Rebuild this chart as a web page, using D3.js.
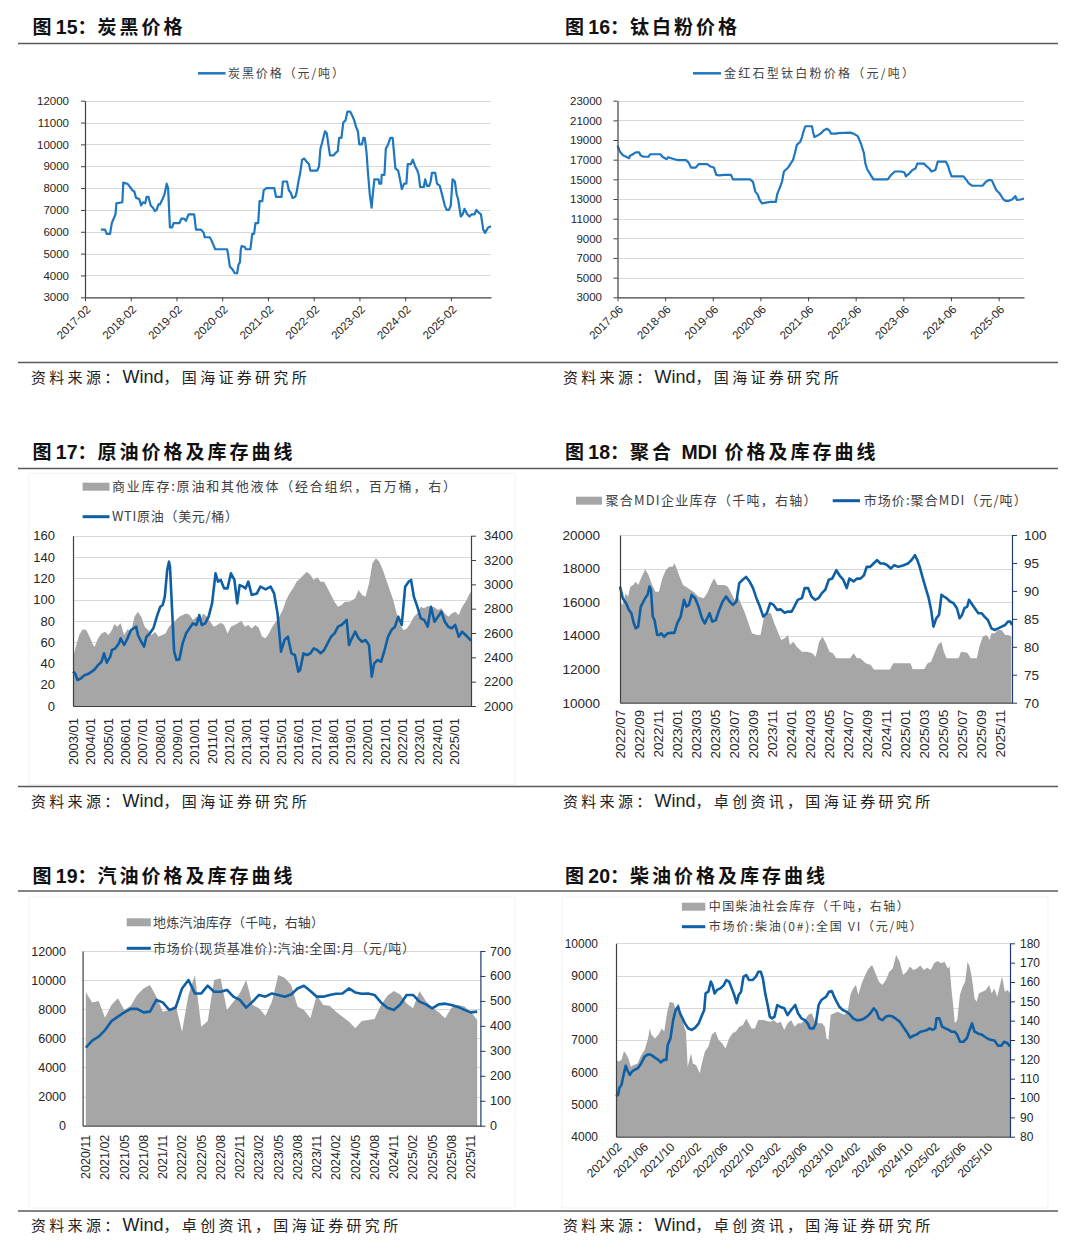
<!DOCTYPE html>
<html><head><meta charset="utf-8">
<script src="https://cdn.jsdelivr.net/npm/d3@7"></script>
<style>
body{margin:0;background:#fff;}
svg{display:block;}
</style></head><body>
<svg id="c" width="1080" height="1249"></svg>
<script>
// ---------------- DATA ----------------
// Fig 15: carbon black price [decimal year, 元/吨]
const fig15Price = [[2017.43,6100],[2017.52,6100],[2017.56,5900],[2017.63,5900],[2017.67,6400],[2017.71,6600],[2017.75,6800],[2017.77,7300],[2017.90,7350],[2017.92,8250],
[2018.01,8200],[2018.05,8100],[2018.12,7900],[2018.16,7850],[2018.20,7550],[2018.27,7500],[2018.31,7200],[2018.35,7350],[2018.40,7300],[2018.43,7600],
[2018.47,7600],[2018.52,7200],[2018.57,7100],[2018.61,6950],[2018.65,7000],[2018.69,7250],[2018.72,7250],[2018.78,7500],[2018.82,7700],[2018.87,8200],
[2018.90,8000],[2018.94,6200],[2018.99,6200],[2019.02,6400],[2019.15,6400],[2019.19,6600],[2019.25,6600],[2019.29,6500],[2019.35,6800],[2019.47,6800],
[2019.51,6100],[2019.62,6100],[2019.68,5950],[2019.70,5750],[2019.81,5750],[2019.85,5600],[2019.89,5400],[2019.93,5200],[2020.19,5200],[2020.21,5000],
[2020.25,4400],[2020.30,4300],[2020.36,4100],[2020.41,4100],[2020.44,4500],[2020.47,4600],[2020.49,5200],[2020.51,5350],[2020.58,5300],[2020.60,5200],
[2020.70,5200],[2020.74,5900],[2020.78,5900],[2020.81,6400],[2020.87,6400],[2020.90,7400],[2020.96,7400],[2020.99,7900],[2021.05,8000],[2021.22,8000],
[2021.26,7600],[2021.38,7600],[2021.41,8300],[2021.50,8300],[2021.54,7900],[2021.58,7800],[2021.62,7550],[2021.68,7600],[2021.71,7800],[2021.75,8300],
[2021.79,8700],[2021.83,9300],[2021.88,9350],[2021.93,9200],[2021.98,9100],[2022.01,8800],[2022.16,8800],[2022.20,9000],[2022.23,9800],[2022.27,10100],
[2022.33,10600],[2022.37,10500],[2022.41,9900],[2022.44,9500],[2022.52,9500],[2022.56,9600],[2022.61,9700],[2022.64,10300],[2022.69,10300],[2022.73,11000],
[2022.78,11100],[2022.82,11500],[2022.88,11500],[2022.93,11300],[2022.97,11100],[2023.01,10800],[2023.05,10600],[2023.08,10000],[2023.14,10000],[2023.17,10300],
[2023.20,10300],[2023.24,9600],[2023.27,8700],[2023.31,7700],[2023.35,7100],[2023.37,7600],[2023.41,8400],[2023.50,8400],[2023.52,8200],[2023.56,8200],
[2023.57,8600],[2023.63,8600],[2023.66,9800],[2023.71,10000],[2023.76,10300],[2023.81,10300],[2023.84,9600],[2023.87,8900],[2023.93,8800],[2023.97,8400],
[2024.01,7950],[2024.06,8200],[2024.11,8200],[2024.14,9100],[2024.21,9100],[2024.25,9300],[2024.30,9000],[2024.35,8800],[2024.38,8600],[2024.41,8050],
[2024.49,8050],[2024.52,8400],[2024.56,8100],[2024.61,8100],[2024.64,8300],[2024.67,8700],[2024.74,8700],[2024.78,8200],[2024.84,8100],[2024.89,7700],
[2024.95,7200],[2024.99,7000],[2025.04,7000],[2025.08,7200],[2025.12,8400],[2025.17,8300],[2025.21,7700],[2025.24,7500],[2025.30,6700],[2025.34,6800],
[2025.38,7050],[2025.44,6800],[2025.49,6700],[2025.54,6800],[2025.60,6800],[2025.64,7000],[2025.68,6900],[2025.74,6800],[2025.79,6100],[2025.83,5950],
[2025.87,6100],[2025.90,6200],[2025.96,6250]];
const fig15XTicks = ["2017-02","2018-02","2019-02","2020-02","2021-02","2022-02","2023-02","2024-02","2025-02"];
const fig15YTicks = [3000,4000,5000,6000,7000,8000,9000,10000,11000,12000];

// Fig 16: rutile TiO2 price
const fig16Price = [[2017.42,18400],[2017.47,17800],[2017.53,17450],[2017.60,17300],[2017.66,17150],[2017.68,17400],[2017.74,17550],[2017.80,17750],[2017.87,17750],[2017.90,17450],
[2017.96,17300],[2018.07,17300],[2018.10,17550],[2018.32,17550],[2018.36,17300],[2018.45,17050],[2018.48,17250],[2018.61,17050],[2018.68,16950],[2018.86,16950],
[2018.91,16700],[2018.96,16200],[2019.06,16200],[2019.12,16550],[2019.30,16550],[2019.37,16300],[2019.44,16200],[2019.49,15450],[2019.55,15400],[2019.66,15450],
[2019.80,15450],[2019.84,15000],[2020.20,15000],[2020.26,14750],[2020.31,13750],[2020.36,13450],[2020.40,12900],[2020.45,12550],[2020.56,12650],[2020.63,12700],
[2020.74,12700],[2020.77,13500],[2020.82,14100],[2020.87,14750],[2020.91,15800],[2021.00,16200],[2021.05,16600],[2021.10,16950],[2021.14,17650],[2021.18,18500],
[2021.25,18800],[2021.29,19300],[2021.32,19850],[2021.36,20400],[2021.50,20400],[2021.52,19850],[2021.55,19300],[2021.63,19500],[2021.68,19650],[2021.75,20000],
[2021.81,20150],[2021.86,20000],[2021.90,19650],[2022.01,19650],[2022.04,19700],[2022.30,19750],[2022.37,19650],[2022.46,19400],[2022.53,18600],[2022.59,17650],
[2022.62,16600],[2022.66,16000],[2022.73,15450],[2022.79,15000],[2023.09,15000],[2023.16,15450],[2023.24,15800],[2023.38,15800],[2023.44,15700],[2023.47,15300],
[2023.53,15550],[2023.61,15950],[2023.67,16100],[2023.71,16600],[2023.85,16600],[2023.89,16400],[2023.96,16100],[2024.01,15800],[2024.09,15950],[2024.14,16800],
[2024.31,16800],[2024.36,16300],[2024.39,15800],[2024.43,15300],[2024.68,15300],[2024.74,14950],[2024.79,14600],[2024.86,14350],[2025.08,14350],[2025.15,14750],
[2025.23,14950],[2025.28,14850],[2025.32,14400],[2025.37,13900],[2025.44,13550],[2025.52,12950],[2025.57,12800],[2025.62,12800],[2025.70,12950],[2025.77,13300],
[2025.80,12900],[2025.88,12950],[2025.95,13050]];
const fig16XTicks = ["2017-06","2018-06","2019-06","2020-06","2021-06","2022-06","2023-06","2024-06","2025-06"];
const fig16YTicks = [3000,5000,7000,9000,11000,13000,15000,17000,19000,21000,23000];

// Fig 17: OECD commercial stocks (百万桶) and WTI (美元/桶)
const fig17Stock = [[2003.00,2392],[2003.16,2488],[2003.36,2584],[2003.56,2630],[2003.76,2625],[2003.96,2570],[2004.16,2501],[2004.25,2488],[2004.45,2556],[2004.65,2597],
[2004.85,2611],[2005.05,2584],[2005.25,2625],[2005.39,2674],[2005.55,2652],[2005.75,2680],[2005.95,2584],[2006.15,2630],[2006.35,2611],[2006.55,2734],
[2006.75,2775],[2006.94,2734],[2007.14,2652],[2007.34,2625],[2007.54,2584],[2007.74,2611],[2007.94,2570],[2008.14,2584],[2008.34,2597],[2008.54,2652],
[2008.74,2680],[2008.94,2707],[2009.14,2734],[2009.33,2748],[2009.53,2761],[2009.73,2748],[2009.93,2707],[2010.13,2734],[2010.33,2707],[2010.53,2761],
[2010.73,2734],[2010.93,2693],[2011.13,2652],[2011.33,2666],[2011.53,2685],[2011.73,2666],[2011.92,2597],[2012.12,2652],[2012.32,2666],[2012.52,2680],
[2012.72,2701],[2012.92,2652],[2013.12,2666],[2013.32,2638],[2013.52,2666],[2013.72,2646],[2013.92,2570],[2014.12,2556],[2014.31,2597],[2014.51,2652],
[2014.71,2693],[2014.91,2734],[2015.11,2789],[2015.31,2871],[2015.51,2926],[2015.71,2967],[2015.91,3022],[2016.11,3049],[2016.31,3077],[2016.51,3104],
[2016.71,3077],[2016.90,3036],[2017.10,3058],[2017.30,3022],[2017.50,3022],[2017.70,2967],[2017.90,2912],[2018.10,2857],[2018.30,2816],[2018.50,2830],
[2018.70,2857],[2018.90,2857],[2019.10,2866],[2019.29,2885],[2019.49,2953],[2019.69,2912],[2019.89,2899],[2020.09,3008],[2020.29,3173],[2020.49,3214],
[2020.69,3186],[2020.89,3118],[2021.09,3036],[2021.29,2953],[2021.49,2871],[2021.69,2761],[2021.88,2666],[2022.08,2625],[2022.28,2638],[2022.48,2680],
[2022.68,2734],[2022.88,2761],[2023.08,2816],[2023.28,2803],[2023.48,2822],[2023.67,2816],[2023.87,2811],[2024.07,2789],[2024.27,2803],[2024.47,2761],
[2024.67,2734],[2024.87,2761],[2025.07,2775],[2025.27,2748],[2025.47,2816],[2025.67,2857],[2025.86,2912],[2025.98,2940]];
const fig17Wti = [[2003.00,32.3],[2003.12,30.7],[2003.26,24.4],[2003.46,26],[2003.66,29],[2003.86,30],[2004.06,32],[2004.25,34.4],[2004.45,38.5],[2004.65,41.6],
[2004.79,49.5],[2004.95,40.7],[2005.15,46.4],[2005.25,52.6],[2005.45,54.2],[2005.65,58.9],[2005.75,63.6],[2005.95,57.3],[2006.15,63.6],[2006.35,71.4],
[2006.65,74.5],[2006.75,66.7],[2006.94,60.4],[2007.10,55.7],[2007.24,65.1],[2007.44,68.3],[2007.64,73],[2007.84,83.9],[2008.04,93.3],[2008.18,94.9],
[2008.30,102.7],[2008.44,127.8],[2008.54,135.6],[2008.60,130.9],[2008.74,83.9],[2008.84,51],[2008.98,43.2],[2009.14,43.8],[2009.33,58.9],[2009.53,68.3],
[2009.73,73],[2009.93,77.7],[2010.13,76.1],[2010.29,85.5],[2010.43,76.1],[2010.63,77.7],[2010.83,83.9],[2011.03,96.4],[2011.23,124.6],[2011.37,116.8],
[2011.53,118.4],[2011.73,110.5],[2011.92,110.5],[2012.12,124.6],[2012.32,118.4],[2012.48,96.4],[2012.62,113.6],[2012.82,112.1],[2012.96,110.5],[2013.12,116.8],
[2013.32,104.3],[2013.62,105.8],[2013.82,112.1],[2014.12,109.6],[2014.41,112.1],[2014.61,105.8],[2014.81,87],[2015.01,51],[2015.21,62],[2015.41,65.1],
[2015.61,49.5],[2015.81,47.9],[2016.01,32.3],[2016.11,33.8],[2016.31,49.5],[2016.51,47.9],[2016.71,49.5],[2016.90,54.2],[2017.10,52.6],[2017.30,49.5],
[2017.50,52.6],[2017.70,58.9],[2017.90,65.1],[2018.10,68.3],[2018.30,74.5],[2018.50,76.1],[2018.70,79.2],[2018.80,80.8],[2018.94,57.3],[2019.10,63.6],
[2019.29,69.8],[2019.49,63.6],[2019.69,60.4],[2019.89,62],[2020.09,57.3],[2020.25,27.6],[2020.39,40.1],[2020.59,43.2],[2020.79,41.6],[2020.99,52.6],
[2021.19,65.1],[2021.39,71.4],[2021.59,74.5],[2021.78,83.9],[2021.98,76.1],[2022.18,112.1],[2022.38,116.8],[2022.52,118.4],[2022.68,102.7],[2022.88,93.3],
[2023.08,82.4],[2023.28,80.8],[2023.48,74.5],[2023.67,93.3],[2023.87,79.2],[2024.07,83.9],[2024.27,88.6],[2024.47,79.2],[2024.67,74.5],[2024.87,73],
[2025.07,76.1],[2025.27,65.1],[2025.47,69.8],[2025.67,66.7],[2025.86,63.6],[2025.98,61.4]];
const fig17XTicks = ["2003/01","2004/01","2005/01","2006/01","2007/01","2008/01","2009/01","2010/01","2011/01","2012/01","2013/01","2014/01","2015/01","2016/01","2017/01","2018/01","2019/01","2020/01","2021/01","2022/01","2023/01","2024/01","2025/01"];
const fig17LeftTicks = [0,20,40,60,80,100,120,140,160];
const fig17RightTicks = [2000,2200,2400,2600,2800,3000,3200,3400];

// Fig 18: polymeric MDI stock and price
const fig18Stock = [[2022.500,16024],[2022.524,15825],[2022.548,16521],[2022.570,16322],[2022.591,16919],[2022.615,17018],[2022.639,17217],[2022.660,17018],[2022.691,17515],[2022.721,17952],
[2022.751,17614],[2022.782,17018],[2022.812,16620],[2022.842,16620],[2022.872,17416],[2022.903,17913],[2022.933,18111],[2022.963,18111],[2022.978,18310],[2023.003,17913],
[2023.024,17515],[2023.054,17018],[2023.099,16819],[2023.145,16620],[2023.190,16322],[2023.236,16223],[2023.266,16521],[2023.296,17018],[2023.327,17416],[2023.357,17018],
[2023.387,17018],[2023.417,17018],[2023.448,16919],[2023.478,16521],[2023.508,16123],[2023.538,16322],[2023.569,15825],[2023.599,15328],[2023.629,14732],[2023.660,14135],
[2023.705,14036],[2023.735,14036],[2023.766,15129],[2023.796,15328],[2023.826,15328],[2023.856,14732],[2023.887,14235],[2023.917,13738],[2023.947,13837],[2023.977,14036],
[2023.993,13440],[2024.023,13638],[2024.053,13341],[2024.099,13042],[2024.144,13042],[2024.189,12943],[2024.220,12744],[2024.250,13638],[2024.280,13936],[2024.310,13539],
[2024.341,13042],[2024.371,12943],[2024.401,12645],[2024.432,12645],[2024.462,12645],[2024.522,12645],[2024.553,12943],[2024.583,12645],[2024.613,12645],[2024.659,12347],
[2024.704,12247],[2024.734,11949],[2024.795,11949],[2024.871,11949],[2024.901,12347],[2024.961,12347],[2025.052,12347],[2025.073,11989],[2025.113,11989],[2025.173,11989],
[2025.204,12347],[2025.234,12446],[2025.264,12943],[2025.294,13440],[2025.325,13638],[2025.346,13042],[2025.370,12645],[2025.431,12645],[2025.476,12645],[2025.497,13042],
[2025.552,12983],[2025.582,12645],[2025.636,12645],[2025.658,13341],[2025.688,13936],[2025.718,14036],[2025.733,13936],[2025.749,13738],[2025.764,14135],[2025.794,14135],
[2025.824,14334],[2025.854,14334],[2025.885,14036],[2025.915,14036],[2025.939,13936]];
const fig18Price = [[2022.500,90.8],[2022.524,88.7],[2022.554,87.8],[2022.579,86.6],[2022.600,86.0],[2022.621,84.2],[2022.639,83.3],[2022.660,83.6],[2022.682,87.2],[2022.706,88.1],
[2022.721,88.7],[2022.742,89.3],[2022.760,90.8],[2022.772,90.2],[2022.788,85.4],[2022.803,84.8],[2022.827,82.1],[2022.842,82.1],[2022.863,82.4],[2022.888,81.8],
[2022.918,82.4],[2022.948,82.5],[2022.978,82.5],[2023.003,84.2],[2023.033,85.4],[2023.063,88.4],[2023.084,87.2],[2023.106,87.5],[2023.130,89.3],[2023.160,88.7],
[2023.190,87.2],[2023.221,85.1],[2023.245,84.2],[2023.266,85.1],[2023.287,86.0],[2023.311,84.5],[2023.342,84.8],[2023.372,86.6],[2023.402,88.1],[2023.433,89.0],
[2023.463,88.1],[2023.493,87.5],[2023.523,88.1],[2023.548,91.4],[2023.578,92.0],[2023.608,92.5],[2023.638,91.7],[2023.669,90.5],[2023.699,88.7],[2023.729,87.2],
[2023.759,85.4],[2023.790,86.0],[2023.820,87.8],[2023.850,87.5],[2023.881,86.6],[2023.911,86.7],[2023.947,86.1],[2023.977,86.3],[2024.008,86.3],[2024.032,87.2],
[2024.062,88.4],[2024.099,88.7],[2024.123,90.5],[2024.153,90.5],[2024.183,89.0],[2024.214,88.4],[2024.244,88.7],[2024.274,89.6],[2024.304,90.2],[2024.335,92.0],
[2024.365,92.2],[2024.401,93.7],[2024.432,92.7],[2024.462,92.0],[2024.492,90.5],[2024.516,92.2],[2024.553,91.7],[2024.583,92.2],[2024.613,92.2],[2024.644,92.8],
[2024.668,94.3],[2024.698,94.3],[2024.728,94.9],[2024.759,95.5],[2024.789,94.9],[2024.819,94.9],[2024.849,94.6],[2024.880,94.0],[2024.910,94.6],[2024.946,94.3],
[2024.992,94.6],[2025.031,94.9],[2025.061,95.5],[2025.092,96.4],[2025.113,95.5],[2025.134,94.3],[2025.158,92.5],[2025.182,90.8],[2025.213,88.7],[2025.234,86.6],
[2025.255,83.6],[2025.279,85.1],[2025.304,85.7],[2025.325,89.3],[2025.346,89.0],[2025.370,88.7],[2025.400,88.1],[2025.431,87.8],[2025.461,86.9],[2025.485,85.1],
[2025.506,85.7],[2025.527,86.9],[2025.552,87.2],[2025.567,88.4],[2025.588,87.8],[2025.618,86.9],[2025.649,86.0],[2025.679,86.0],[2025.703,85.4],[2025.733,84.8],
[2025.764,83.3],[2025.794,83.0],[2025.824,83.3],[2025.854,83.6],[2025.885,83.9],[2025.909,84.5],[2025.930,84.5],[2025.945,83.9]];
const fig18XTicks = ["2022/07","2022/09","2022/11","2023/01","2023/03","2023/05","2023/07","2023/09","2023/11","2024/01","2024/03","2024/05","2024/07","2024/09","2024/11","2025/01","2025/03","2025/05","2025/07","2025/09","2025/11"];
const fig18LeftTicks = [10000,12000,14000,16000,18000,20000];
const fig18RightTicks = [70,75,80,85,90,95,100];

// Fig 19: gasoline (monthly)
const fig19Months = ("2020/11 2020/12 2021/01 2021/02 2021/03 2021/04 2021/05 2021/06 2021/07 2021/08 2021/09 2021/10 2021/11 2021/12 " +
 "2022/01 2022/02 2022/03 2022/04 2022/05 2022/06 2022/07 2022/08 2022/09 2022/10 2022/11 2022/12 " +
 "2023/01 2023/02 2023/03 2023/04 2023/05 2023/06 2023/07 2023/08 2023/09 2023/10 2023/11 2023/12 " +
 "2024/01 2024/02 2024/03 2024/04 2024/05 2024/06 2024/07 2024/08 2024/09 2024/10 2024/11 2024/12 " +
 "2025/01 2025/02 2025/03 2025/04 2025/05 2025/06 2025/07 2025/08 2025/09 2025/10 2025/11 2025/12").split(" ");
const fig19Stock = [9160,8470,8560,7420,8290,8750,7950,8240,8980,9430,9660,8860,7830,7950,8290,6460,8980,10350,6800,7190,
 10010,10120,7950,8520,9090,10010,8290,8060,7560,8520,10350,10170,9660,8180,7950,7380,8980,8290,8240,7830,
 7490,7150,6690,7190,7260,7330,8290,8930,9250,9020,8400,8060,9250,8560,8110,7790,7380,8110,8290,8180,7830,7260];
const fig19Price = [313,341,357,383,419,437,454,468,468,454,457,504,494,464,473,550,584,530,530,561,
 537,537,544,517,504,473,497,524,517,530,524,517,526,550,561,540,517,517,524,529,
 530,550,534,529,530,524,494,473,464,486,524,524,497,486,470,486,489,484,476,464,454,457];
const fig19XTicks = ["2020/11","2021/02","2021/05","2021/08","2021/11","2022/02","2022/05","2022/08","2022/11","2023/02","2023/05","2023/08","2023/11","2024/02","2024/05","2024/08","2024/11","2025/02","2025/05","2025/08","2025/11"];
const fig19LeftTicks = [0,2000,4000,6000,8000,10000,12000];
const fig19RightTicks = [0,100,200,300,400,500,600,700];

// Fig 20: diesel
const fig20Stock = [[2021.083,6380],[2021.118,6330],[2021.152,6380],[2021.183,6640],[2021.205,6590],[2021.239,6430],[2021.270,6170],[2021.300,6220],[2021.356,6270],[2021.400,6530],
[2021.443,6690],[2021.487,7050],[2021.508,7360],[2021.530,7160],[2021.573,7050],[2021.617,7160],[2021.660,7360],[2021.691,7260],[2021.725,7830],[2021.760,8190],
[2021.812,8140],[2021.834,7930],[2021.856,8090],[2021.877,8140],[2021.899,7780],[2021.921,7670],[2021.942,7410],[2021.964,7260],[2021.986,6170],[2022.029,6590],
[2022.051,6270],[2022.094,6220],[2022.138,5960],[2022.159,6220],[2022.203,6640],[2022.246,6790],[2022.290,7160],[2022.333,7260],[2022.376,7000],[2022.420,6900],
[2022.463,6740],[2022.507,7050],[2022.550,7210],[2022.593,7260],[2022.637,7410],[2022.680,7460],[2022.724,7670],[2022.745,7570],[2022.789,7360],[2022.832,7360],
[2022.875,7620],[2022.941,7620],[2022.984,7590],[2023.027,7570],[2023.071,7620],[2023.114,7520],[2023.158,7570],[2023.201,7310],[2023.244,7520],[2023.288,7620],
[2023.331,7410],[2023.375,7520],[2023.418,7520],[2023.461,7620],[2023.505,7780],[2023.548,7830],[2023.592,7570],[2023.635,7520],[2023.678,7520],[2023.713,7410],
[2023.735,7050],[2023.757,7000],[2023.787,7780],[2023.830,7830],[2023.874,7880],[2023.917,7830],[2023.960,7780],[2024.004,7930],[2024.034,8400],[2024.069,8600],
[2024.104,8710],[2024.134,8400],[2024.177,8760],[2024.221,9020],[2024.264,9220],[2024.308,9330],[2024.351,9070],[2024.394,8810],[2024.438,8710],[2024.481,8860],
[2024.525,9120],[2024.568,9220],[2024.611,9640],[2024.655,9430],[2024.698,9020],[2024.742,9120],[2024.785,9280],[2024.828,9170],[2024.872,9220],[2024.915,9310],
[2024.959,9170],[2025.002,9240],[2025.045,9170],[2025.089,9380],[2025.132,9450],[2025.176,9380],[2025.219,9430],[2025.262,9220],[2025.284,9280],[2025.306,8600],
[2025.328,8090],[2025.349,7520],[2025.380,7620],[2025.414,8400],[2025.449,8660],[2025.479,8810],[2025.510,9430],[2025.536,9280],[2025.566,8910],[2025.597,8290],
[2025.623,8190],[2025.653,8450],[2025.696,8500],[2025.740,8550],[2025.783,8710],[2025.813,8450],[2025.848,8600],[2025.883,8340],[2025.913,8650],[2025.944,8970],
[2025.979,8500],[2026.013,8550],[2026.044,8450]];
const fig20Price = [[2021.083,101],[2021.109,101.6],[2021.126,105.3],[2021.152,106.7],[2021.183,112.8],[2021.205,116.7],[2021.226,114.5],[2021.257,111.9],[2021.283,113.6],[2021.313,114.5],
[2021.356,115.3],[2021.400,117.9],[2021.443,121.4],[2021.487,122.6],[2021.530,122.2],[2021.573,120.9],[2021.617,119.7],[2021.647,118.4],[2021.682,119.7],[2021.717,119.7],
[2021.734,127.4],[2021.769,130.9],[2021.803,140.3],[2021.834,145.5],[2021.864,147.2],[2021.890,143.8],[2021.921,141.2],[2021.951,138.6],[2021.994,136],[2022.038,135.2],
[2022.081,136.4],[2022.125,138.6],[2022.159,142.1],[2022.194,145.5],[2022.211,154.1],[2022.246,155],[2022.277,160.2],[2022.298,158.4],[2022.324,154.1],[2022.355,155.9],
[2022.398,156.7],[2022.441,158.4],[2022.472,161],[2022.507,160.2],[2022.541,156.7],[2022.572,153.3],[2022.602,149],[2022.628,153.3],[2022.658,155],[2022.689,162.8],
[2022.724,163.6],[2022.758,161],[2022.802,161],[2022.845,162.8],[2022.875,165.3],[2022.906,165.3],[2022.932,161.9],[2022.962,154.1],[2022.993,148.1],[2023.019,142.1],
[2023.049,141.2],[2023.079,142.1],[2023.114,148.1],[2023.149,147.2],[2023.201,146.4],[2023.244,142.9],[2023.288,145.5],[2023.340,148.1],[2023.375,143.8],[2023.418,141.2],
[2023.461,140.3],[2023.496,138.6],[2023.526,136],[2023.570,136],[2023.600,138.6],[2023.635,148.1],[2023.670,150.7],[2023.700,151.6],[2023.730,152.4],[2023.765,155],
[2023.800,155.3],[2023.830,152.4],[2023.861,149.8],[2023.895,147.2],[2023.939,145.5],[2023.982,144.7],[2024.026,143.3],[2024.069,141.2],[2024.112,140.3],[2024.156,140.3],
[2024.199,140.9],[2024.243,142.1],[2024.286,143.8],[2024.329,146.4],[2024.364,144.7],[2024.394,141.2],[2024.438,140.3],[2024.481,142.1],[2024.525,142.6],[2024.568,142.1],
[2024.611,140.9],[2024.655,139.5],[2024.698,136.9],[2024.742,134.3],[2024.785,131.2],[2024.828,132.2],[2024.872,132.9],[2024.915,134.3],[2024.959,134.7],[2025.002,135.2],
[2025.032,136],[2025.067,135.2],[2025.102,136],[2025.119,141.2],[2025.154,141.2],[2025.189,136.9],[2025.232,136],[2025.275,135.2],[2025.306,134.3],[2025.349,134.3],
[2025.380,132.6],[2025.414,129.1],[2025.458,129.1],[2025.501,130.9],[2025.536,135.2],[2025.566,138.6],[2025.597,134.3],[2025.640,133.4],[2025.683,132.9],[2025.727,131.7],
[2025.770,130.5],[2025.813,130],[2025.848,129.7],[2025.892,127.1],[2025.935,127.1],[2025.970,129.1],[2026.013,128.3],[2026.044,126.6]];
const fig20XTicks = ["2021/02","2021/06","2021/10","2022/02","2022/06","2022/10","2023/02","2023/06","2023/10","2024/02","2024/06","2024/10","2025/02","2025/06","2025/10"];
const fig20LeftTicks = [4000,5000,6000,7000,8000,9000,10000];
const fig20RightTicks = [80,90,100,110,120,130,140,150,160,170,180];

// ---------------- DRAWING ----------------
const svg = d3.select("#c");
const CJK = '"Noto Sans CJK SC", "Noto Sans CJK JP", sans-serif';
const NUM = '"Liberation Sans", Arial, sans-serif';
const BLUE1 = "#1f77c0", BLUE2 = "#0f5fa5", GRAY = "#a6a6a6", GRID = "#d9d9d9", NAVY = "#1f3a70", AX = "#404040";
const ym = s => { const p = s.split(/[-\/]/).map(Number); return p[0] + (p[1]-1)/12; };

function text(x, y, s, o = {}) {
  const t = svg.append("text").attr("x", x).attr("y", y).attr("dy", "0.35em").text(s)
    .attr("font-family", o.ff || CJK).attr("font-size", o.fs || 13).attr("fill", o.fill || "#404040")
    .attr("font-weight", o.fw || 400).attr("text-anchor", o.anchor || "start");
  if (o.len) t.attr("textLength", o.len).attr("lengthAdjust", "spacing");
  return t;
}
// mixed-font text: segments of [string, fontFamily, fontSize, letterSpacing]
function rich(x, y, segs, o = {}) {
  const t = svg.append("text").attr("x", x).attr("y", y).attr("dy", "0.35em")
    .attr("fill", o.fill || "#222").attr("font-weight", o.fw || 400);
  segs.forEach(s => t.append("tspan").text(s[0]).attr("font-family", s[1]).attr("font-size", s[2]).attr("letter-spacing", s[3] || 0));
  return t;
}
function hline(x1, x2, y, c, w) { svg.append("line").attr("x1", x1).attr("x2", x2).attr("y1", y).attr("y2", y).attr("stroke", c).attr("stroke-width", w); }
function grid(y, vals, x0, x1) {
  svg.append("g").selectAll("line").data(vals).join("line")
    .attr("x1", x0).attr("x2", x1).attr("y1", d => Math.round(y(d)) + 0.5).attr("y2", d => Math.round(y(d)) + 0.5)
    .attr("stroke", GRID).attr("stroke-width", 1);
}
function yAxis(side, y, vals, x, tick, pad, fs, color) {
  const gen = (side === "left" ? d3.axisLeft(y) : d3.axisRight(y)).tickValues(vals).tickSize(tick).tickSizeOuter(0).tickPadding(pad).tickFormat(d3.format("d"));
  const a = svg.append("g").attr("transform", `translate(${x},0)`).call(gen);
  a.select(".domain").attr("stroke", color).attr("stroke-width", 1.2);
  a.selectAll(".tick line").attr("stroke", color);
  a.selectAll(".tick text").attr("font-family", NUM).attr("font-size", fs).attr("fill", "#262626");
  return a;
}
function xAxis(x, vals, labels, y, tick, fs, transform) {
  const a = svg.append("g").attr("transform", `translate(0,${y})`)
    .call(d3.axisBottom(x).tickValues(vals).tickFormat((d, i) => labels[i]).tickSize(tick).tickSizeOuter(0));
  a.select(".domain").attr("stroke", AX).attr("stroke-width", 1.2);
  a.selectAll(".tick line").attr("stroke", AX);
  a.selectAll(".tick text").attr("font-family", NUM).attr("font-size", fs).attr("fill", "#262626")
    .attr("x", 0).attr("y", 0).attr("dy", "0.35em").attr("text-anchor", "end").attr("transform", transform);
  return a;
}
function drawLine(data, x, y, color, w) {
  svg.append("path").datum(data).attr("fill", "none").attr("stroke", color).attr("stroke-width", w)
    .attr("stroke-linejoin", "round").attr("d", d3.line().x(d => x(d[0])).y(d => y(d[1])));
}
function drawArea(data, x, y, base) {
  svg.append("path").datum(data).attr("fill", GRAY).attr("stroke", "none")
    .attr("d", d3.area().x(d => x(d[0])).y0(y(base)).y1(d => y(d[1])));
}
function legLine(x1, x2, y, color, w) { hline(x1, x2, y, color, w); }
function legRect(x1, x2, y, h) { svg.append("rect").attr("x", x1).attr("y", y - h/2).attr("width", x2 - x1).attr("height", h).attr("fill", GRAY); }
function frame(x, y, w, h) { svg.append("rect").attr("x", x).attr("y", y).attr("width", w).attr("height", h).attr("fill", "none").attr("stroke", "#f3f3f3"); }

// ---- page chrome ----
[43.5, 468.5, 891].forEach(y => hline(18, 1058, y, "#5a5a5a", 1.6));
[362.5, 786.5, 1211].forEach(y => hline(18, 1058, y, "#5a5a5a", 1.6));
const T = (s, ls) => [s, CJK, 19, ls];
const titles = [
  [32.5, 28.5, "15", [T("炭黑价格", 3)]], [565, 28.5, "16", [T("钛白粉价格", 3)]],
  [32.5, 453, "17", [T("原油价格及库存曲线", 3)]],
  [565, 453, "18", [T("聚合 ", 3), ["MDI", NUM, 19.5, 0], T(" 价格及库存曲线", 3)]],
  [32.5, 877, "19", [T("汽油价格及库存曲线", 3)]], [565, 877, "20", [T("柴油价格及库存曲线", 3)]]];
titles.forEach(t => rich(t[0], t[1], [["图 ", CJK, 19, 0], [t[2], NUM, 19.5, 0], ["：", CJK, 19, 1]].concat(t[3]), { fw: 700, fill: "#111" }));
const srcA = ["国海证券研究所"], srcB = ["卓创资讯，", "国海证券研究所"];
function source(x, y, parts) {
  const segs = [["资料来源：", CJK, 15, 3.3], ["Wind", NUM, 18, 0], ["，", CJK, 15, 3.3]];
  parts.forEach(p => segs.push([p, CJK, 15, 3.3]));
  rich(x, y, segs, { fill: "#222" });
}
source(31, 377, srcA); source(563, 377, srcA);
source(31, 801, srcA); source(563, 801, srcB);
source(31, 1225, srcB); source(563, 1225, srcB);

// ---- Fig 15 ----
{
  const x = d3.scaleLinear().domain([ym("2017-02"), 2025.96]).range([85, 491]);
  const y = d3.scaleLinear().domain([3000, 12000]).range([297.3, 100.7]);
  grid(y, fig15YTicks.slice(1), 85, 491);
  drawLine(fig15Price, x, y, BLUE1, 2.2);
  yAxis("left", y, fig15YTicks, 85, 4, 12, 11.5, AX);
  xAxis(x, fig15XTicks.map(ym), fig15XTicks, 297.3, 4, 11.5, "translate(3,10) rotate(-45)");
  legLine(198, 225.5, 73.3, BLUE1, 2.5);
  text(228, 73.3, "炭黑价格（元/吨）", { fs: 12, len: 116 });
}
// ---- Fig 16 ----
{
  const x = d3.scaleLinear().domain([ym("2017-06"), 2025.95]).range([617.5, 1024]);
  const y = d3.scaleLinear().domain([3000, 23000]).range([297.3, 100.7]);
  grid(y, fig16YTicks.slice(1), 617.5, 1024);
  drawLine(fig16Price, x, y, BLUE1, 2.2);
  yAxis("left", y, fig16YTicks, 617.5, 4, 11.5, 11.5, AX);
  xAxis(x, fig16XTicks.map(ym), fig16XTicks, 297.3, 4, 11.5, "translate(3,10) rotate(-45)");
  legLine(693, 721, 73.3, BLUE1, 2.5);
  text(724, 73.3, "金红石型钛白粉价格（元/吨）", { fs: 12, len: 190 });
}
// ---- Fig 17 ----
{
  frame(29, 473.5, 486, 311);
  const x = d3.scaleLinear().domain([2003.0, 2025.98]).range([73, 471]);
  const yL = d3.scaleLinear().domain([0, 160]).range([706, 535.7]);
  const yR = d3.scaleLinear().domain([2000, 3400]).range([706, 535.7]);
  grid(yL, fig17LeftTicks.slice(1), 73, 471);
  drawArea(fig17Stock, x, yR, 2000);
  drawLine(fig17Wti, x, yL, BLUE2, 2.6);
  yAxis("left", yL, fig17LeftTicks, 73, 0, 18, 13, AX);
  yAxis("right", yR, fig17RightTicks, 471, 5, 8, 13, AX);
  xAxis(x, fig17XTicks.map(ym), fig17XTicks, 706, 0, 13, "translate(0,12) rotate(-90)");
  legRect(82.6, 109.5, 486.7, 8);
  text(112, 486.7, "商业库存:原油和其他液体（经合组织，百万桶，右）", { fs: 13, len: 344 });
  legLine(82.6, 109.5, 516.7, BLUE2, 3);
  text(112, 516.7, "WTI原油（美元/桶）", { fs: 13, len: 126 });
}
// ---- Fig 18 ----
{
  const x = d3.scaleLinear().domain([2022.5, 2025.945]).range([620, 1012]);
  const yL = d3.scaleLinear().domain([10000, 20000]).range([702.7, 535]);
  const yR = d3.scaleLinear().domain([70, 100]).range([702.7, 535]);
  grid(yL, fig18LeftTicks.slice(1), 620, 1012);
  drawArea(fig18Stock, x, yL, 10000);
  drawLine(fig18Price, x, yR, BLUE2, 2.6);
  yAxis("left", yL, fig18LeftTicks, 620, 0, 20, 13.5, AX);
  yAxis("right", yR, fig18RightTicks, 1012, 5, 7, 13.5, NAVY);
  xAxis(x, fig18XTicks.map(ym), fig18XTicks, 702.7, 0, 13.5, "translate(0,7) rotate(-90)");
  legRect(576, 602, 500.7, 8);
  text(605.4, 500.7, "聚合MDI企业库存（千吨，右轴）", { fs: 13, len: 211 });
  legLine(832.7, 860, 500.7, BLUE2, 3);
  text(863.7, 500.7, "市场价:聚合MDI（元/吨）", { fs: 13, len: 163 });
}
// ---- Fig 19 ----
{
  frame(29, 897, 486, 311);
  const xb = d3.scaleBand().domain(fig19Months).range([82.6, 480.4]);
  const xc = m => xb(m) + xb.bandwidth() / 2;
  const yL = d3.scaleLinear().domain([0, 12000]).range([1125.7, 951]);
  const yR = d3.scaleLinear().domain([0, 700]).range([1125.7, 951]);
  grid(yL, fig19LeftTicks.slice(1), 82.6, 480.4);
  const stock = fig19Months.map((m, i) => [m, fig19Stock[i]]);
  const price = fig19Months.map((m, i) => [m, fig19Price[i]]);
  svg.append("path").datum(stock).attr("fill", GRAY)
    .attr("d", d3.area().x(d => xc(d[0])).y0(yL(0)).y1(d => yL(d[1])));
  svg.append("path").datum(price).attr("fill", "none").attr("stroke", BLUE2).attr("stroke-width", 2.6).attr("stroke-linejoin", "round")
    .attr("d", d3.line().x(d => xc(d[0])).y(d => yR(d[1])));
  yAxis("left", yL, fig19LeftTicks, 82.6, 0, 16.6, 12.5, AX);
  yAxis("right", yR, fig19RightTicks, 480.4, 5, 4.6, 12.5, NAVY);
  const a = svg.append("g").attr("transform", "translate(0,1125.7)")
    .call(d3.axisBottom(xb).tickValues(fig19XTicks).tickSize(0).tickSizeOuter(0));
  a.select(".domain").attr("stroke", AX).attr("stroke-width", 1.2);
  a.selectAll(".tick text").attr("font-family", NUM).attr("font-size", 12.5).attr("fill", "#262626")
    .attr("x", 0).attr("y", 0).attr("dy", "0.35em").attr("text-anchor", "end").attr("transform", "translate(0,9) rotate(-90)");
  legRect(126.7, 150.8, 922.3, 8);
  text(153, 922.3, "地炼汽油库存（千吨，右轴）", { fs: 13, len: 171 });
  legLine(126.7, 150.8, 948.3, BLUE2, 3);
  text(153, 948.3, "市场价(现货基准价):汽油:全国:月（元/吨）", { fs: 13, len: 262 });
}
// ---- Fig 20 ----
{
  frame(562, 897, 486, 311);
  const x = d3.scaleLinear().domain([ym("2021/02"), 2026.044]).range([616, 1010]);
  const yL = d3.scaleLinear().domain([4000, 10000]).range([1136.7, 943.3]);
  const yR = d3.scaleLinear().domain([80, 180]).range([1136.7, 943.3]);
  grid(yL, fig20LeftTicks.slice(1), 616, 1010);
  drawArea(fig20Stock, x, yL, 4000);
  drawLine(fig20Price, x, yR, BLUE2, 2.6);
  yAxis("left", yL, fig20LeftTicks, 616, 0, 18, 12, AX);
  yAxis("right", yR, fig20RightTicks, 1010, 5, 5, 12, NAVY);
  xAxis(x, fig20XTicks.map(ym), fig20XTicks, 1136.7, 0, 12, "translate(3,8) rotate(-45)");
  legRect(681.9, 705.3, 906.7, 8);
  text(708.7, 906.7, "中国柴油社会库存（千吨，右轴）", { fs: 12, len: 200 });
  legLine(681.9, 705.3, 926.7, BLUE2, 3);
  text(708.7, 926.7, "市场价:柴油(0#):全国 VI（元/吨）", { fs: 12, len: 213 });
}
</script>
</body></html>
